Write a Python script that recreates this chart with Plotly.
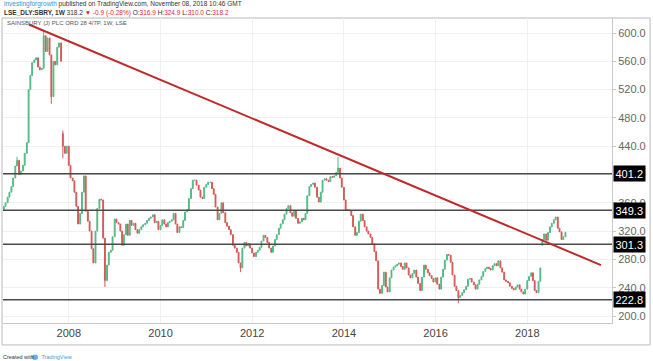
import plotly.graph_objects as go
import pandas as pd

# ---- data (semi-monthly closes) ----
closes = [
    355, 360, 368, 375, 383, 395, 412, 420, 400, 405, 413, 430,
    445, 520, 540, 558, 562, 565, 552, 548, 550, 596, 574, 593,
    569, 510, 560, 555, 580, 586, 560, 440, 430, 440, 413, 395,
    391, 375, 355, 330, 345, 375, 398, 348, 334, 320, 295, 275,
    320, 352, 365, 364, 310, 250, 272, 290, 293, 312, 337, 332,
    330, 320, 300, 315, 330, 314, 335, 328, 331, 322, 317, 322,
    326, 329, 331, 335, 338, 340, 343, 332, 334, 322, 328, 336,
    330, 326, 332, 334, 336, 345, 330, 318, 326, 325, 335, 347,
    350, 366, 380, 392, 392, 385, 378, 368, 366, 382, 386, 389,
    389, 380, 372, 354, 336, 345, 360, 346, 332, 327, 322, 315,
    300, 296, 290, 275, 268, 296, 304, 299, 302, 296, 289, 284,
    290, 293, 297, 306, 314, 311, 304, 296, 290, 299, 308, 315,
    324, 330, 336, 344, 352, 356, 346, 341, 349, 338, 331, 333,
    338, 336, 345, 370, 383, 386, 388, 382, 368, 361, 375, 392,
    394, 392, 390, 397, 396, 398, 403, 409, 395, 382, 364, 350,
    350, 349, 342, 326, 314, 318, 334, 344, 335, 326, 320, 316,
    311, 302, 291, 278, 238, 232, 243, 262, 241, 234, 254, 265,
    269, 271, 273, 275, 270, 266, 275, 268, 258, 254, 260, 265,
    255, 246, 236, 255, 272, 266, 261, 257, 253, 248, 254, 245,
    238, 255, 266, 279, 287, 286, 276, 258, 242, 236, 226, 229,
    233, 237, 242, 252, 253, 248, 244, 238, 245, 251, 256, 263,
    267, 269, 267, 265, 271, 274, 271, 278, 268, 262, 251, 249,
    247, 242, 239, 237, 241, 244, 238, 234, 231, 238, 250, 256,
    261, 250, 236, 233, 249, 268, 308, 316, 307, 318, 326, 331,
    336, 340, 324, 319, 308, 312, 318.2,
]
first_open = 350
gap_opens = {31: 458, 282: 300}          # price gaps
high_wicks = {7: 425, 21: 604, 175: 425, 31: 462}
low_wicks = {25: 500, 31: 423, 53: 241, 124: 262, 238: 218}

levels = [401.2, 349.3, 301.3, 222.8]
trend_start = ("2007-02-17", 612)
trend_end = ("2019-08-11", 272)
price_ticks = [200, 240, 280, 320, 360, 400, 440, 480, 520, 560, 600]

dates = pd.date_range(start="2006-08-01", periods=len(closes), freq="SMS")

opens = [first_open] + closes[:-1]
for k, v in gap_opens.items():
    opens[k] = v
highs = [max(o, c) for o, c in zip(opens, closes)]
lows = [min(o, c) for o, c in zip(opens, closes)]
for k, v in high_wicks.items():
    highs[k] = v
for k, v in low_wicks.items():
    lows[k] = v

UP = "#53b987"
DOWN = "#d35a57"
FONT = "Liberation Sans"

fig = go.Figure()
fig.add_trace(go.Candlestick(
    x=dates, open=opens, high=highs, low=lows, close=closes,
    increasing=dict(line=dict(color=UP, width=1), fillcolor=UP),
    decreasing=dict(line=dict(color=DOWN, width=1), fillcolor=DOWN),
    whiskerwidth=0, showlegend=False, hoverinfo="skip",
))

shapes = []
for lv in levels:
    shapes.append(dict(type="line", xref="paper", yref="y", x0=0, x1=1,
                       y0=lv, y1=lv, line=dict(color="#4a4a4a", width=1.5)))
shapes.append(dict(type="line", xref="x", yref="y",
                   x0=trend_start[0], y0=trend_start[1],
                   x1=trend_end[0], y1=trend_end[1],
                   line=dict(color="#c0282b", width=2)))
# outer frame
shapes.append(dict(type="rect", xref="paper", yref="paper",
                   x0=-0.0016, x1=1.0625, y0=-0.072, y1=1.0,
                   line=dict(color="#b8b8b8", width=1), layer="below"))

annotations = []
for lv in levels:
    annotations.append(dict(
        x=1, xref="paper", y=lv, yref="y", xanchor="left", yanchor="middle",
        xshift=1, text=f"{lv:.1f}", showarrow=False,
        font=dict(family=FONT, size=11, color="white"),
        bgcolor="black", borderpad=1.5))

annotations += [
    dict(x=0, y=1.046, xref="paper", yref="paper", xanchor="left", yanchor="middle",
         xshift=-1, showarrow=False,
         text="<span style='color:#3d8ed6'>investingforgrowth</span> published on TradingView.com, November 08, 2018 10:46 GMT",
         font=dict(family=FONT, size=6.5, color="#333")),
    dict(x=0, y=1.016, xref="paper", yref="paper", xanchor="left", yanchor="middle",
         xshift=-1, showarrow=False,
         text=("<b>LSE_DLY:SBRY, 1W</b> 318.2 <span style='color:#d32f2f'>▼ -0.9 (-0.28%)</span> "
               "O:<span style='color:#d32f2f'>316.9</span> H:<span style='color:#d32f2f'>324.9</span> "
               "L:<span style='color:#d32f2f'>310.0</span> C:<span style='color:#d32f2f'>318.2</span>"),
         font=dict(family=FONT, size=6.5, color="#333")),
    dict(x=0, y=0.983, xref="paper", yref="paper", xanchor="left", yanchor="middle",
         xshift=2, showarrow=False,
         text="SAINSBURY (J) PLC ORD 28 4/7P, 1W, LSE",
         font=dict(family=FONT, size=6, color="#555")),
    dict(x=0, y=-0.112, xref="paper", yref="paper", xanchor="left", yanchor="middle",
         xshift=-2, showarrow=False,
         text="Created with &nbsp;&nbsp;&nbsp; <span style='color:#3d9be0'>TradingView</span>",
         font=dict(family=FONT, size=5.5, color="#333")),
]
# small logo mark near "TradingView"
shapes.append(dict(type="circle", xref="paper", yref="paper",
                   x0=0.0475, x1=0.0575, y0=-0.121, y1=-0.103,
                   fillcolor="#5fb3e8", line=dict(width=0)))

fig.update_layout(
    width=653, height=361,
    margin=dict(l=3, r=41, t=18, b=38),
    paper_bgcolor="white", plot_bgcolor="white",
    shapes=shapes, annotations=annotations,
    xaxis=dict(
        type="date", range=["2006-07-26", "2019-11-07"],
        rangeslider=dict(visible=False),
        tick0="2008-01-01", dtick="M24", tickformat="%Y",
        showgrid=True, gridcolor="#f0f0f0", gridwidth=1,
        showline=True, linecolor="#c8c8c8", linewidth=1,
        ticks="", tickfont=dict(family=FONT, size=11, color="#444"),
        zeroline=False,
    ),
    yaxis=dict(
        side="right", range=[190.1, 621.2],
        tickvals=price_ticks, tickformat=".1f",
        showgrid=True, gridcolor="#f0f0f0", gridwidth=1,
        showline=True, linecolor="#c8c8c8", linewidth=1,
        ticks="outside", ticklen=3, tickcolor="#c8c8c8",
        tickfont=dict(family=FONT, size=11, color="#666"),
        zeroline=False,
    ),
)

fig.write_html("out.html", config={"displayModeBar": False},
               post_script="document.body.style.margin='0';document.body.style.overflow='hidden';")
